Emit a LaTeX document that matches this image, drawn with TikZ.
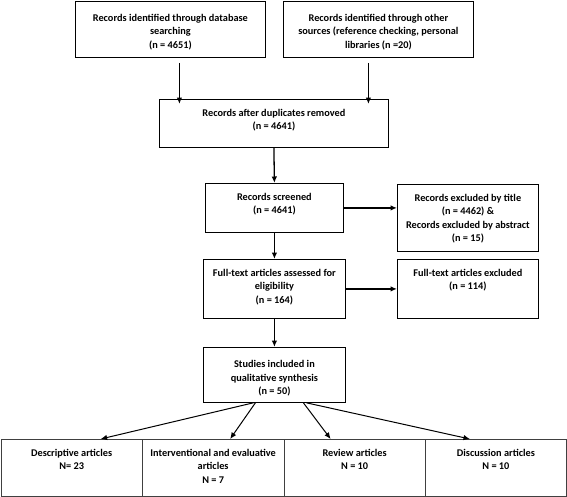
\documentclass[tikz,border=0pt]{standalone}
\usepackage{fontspec}
\setmainfont{Carlito}
\usetikzlibrary{arrows.meta}
\begin{document}
\begin{tikzpicture}[x=1pt,y=-1pt,
  box/.style={draw=black, line width=0.8pt, inner sep=0pt, anchor=north west},
  lowbox/.style={draw=black!75, line width=0.8pt, inner sep=0pt, anchor=north west},
  lab/.style={anchor=north, yshift=-10pt, align=center, inner sep=0pt,
    font=\bfseries\fontsize{10.3}{13.3}\selectfont},
  labhi/.style={lab, yshift=-3.5pt},
  arr/.style={-{Latex[length=6.5pt,width=5.5pt]}, line width=1.3pt}
]
\useasboundingbox (0,0) rectangle (567,496);
\fill[white] (0,0) rectangle (567,496);

% top boxes
\node[box, minimum width=190pt, minimum height=56.5pt,
  label={[labhi]north:{Records identified through database\\searching\\(n = 4651)}}]
  (db) at (75,0.5) {};
\node[box, minimum width=190pt, minimum height=56.5pt,
  label={[labhi]north:{Records identified through other\\sources (reference checking, personal\\libraries (n =20)}}]
  (oth) at (283,0.5) {};

\node[box, minimum width=229pt, minimum height=48pt,
  label={[lab]north:{Records after duplicates removed\\(n = 4641)}}]
  (dup) at (159,99) {};

\node[box, minimum width=138pt, minimum height=49pt,
  label={[lab]north:{Records screened\\(n = 4641)}}]
  (scr) at (205,183) {};
\node[box, minimum width=141pt, minimum height=67pt,
  label={[lab]north:{Records excluded by title\\(n = 4462) \&\\Records excluded by abstract\\(n = 15)}}]
  (exa) at (397,184) {};

\node[box, minimum width=142pt, minimum height=59pt,
  label={[lab]north:{Full-text articles assessed for\\eligibility\\(n = 164)}}]
  (ft) at (203,259) {};
\node[box, minimum width=141pt, minimum height=59pt,
  label={[lab]north:{Full-text articles excluded\\(n = 114)}}]
  (exb) at (397,259) {};

\node[box, minimum width=142pt, minimum height=55pt,
  label={[labhi]north:{Studies included in\\qualitative synthesis\\(n = 50)}}]
  (inc) at (203,347) {};

% bottom boxes
\node[lowbox, minimum width=141.5pt, minimum height=56.5pt,
  label={[lab]north:{Descriptive articles\\N= 23}}]
  (desc) at (0.5,439) {};
\node[lowbox, minimum width=141.5pt, minimum height=56.5pt,
  label={[lab]north:{Interventional and evaluative\\articles\\N = 7}}]
  (intv) at (142,439) {};
\node[lowbox, minimum width=141.5pt, minimum height=56.5pt,
  label={[lab]north:{Review articles\\N = 10}}]
  (rev) at (283.5,439) {};
\node[lowbox, minimum width=141pt, minimum height=56.5pt,
  label={[lab]north:{Discussion articles\\N = 10}}]
  (disc) at (425,439) {};

% connectors
\draw[arr] ([xshift=9pt,yshift=-5pt]db.south) -- ([xshift=9pt,yshift=-5pt]db.south |- dup.north);
\draw[arr] ([xshift=-10pt,yshift=-5pt]oth.south) -- ([xshift=-10pt,yshift=-5pt]oth.south |- dup.north);
\draw[arr] (dup.south) -- (scr.north);
\draw[arr] (scr.east) -- (scr.east -| exa.west);
\draw[arr] (scr.south) -- (ft.north);
\draw[arr] (ft.east) -- (ft.east -| exb.west);
\draw[arr] (ft.south) -- (inc.north);
\draw[arr, line width=1pt] ([xshift=-21pt]inc.south) -- ([xshift=29pt]desc.north);
\draw[arr, line width=1pt] ([xshift=-19pt]inc.south) -- ([xshift=17pt]intv.north);
\draw[arr, line width=1pt] ([xshift=29pt]inc.south) -- ([xshift=-24pt]rev.north);
\draw[arr, line width=1pt] ([xshift=32pt]inc.south) -- ([xshift=-26pt]disc.north);
\end{tikzpicture}
\end{document}
